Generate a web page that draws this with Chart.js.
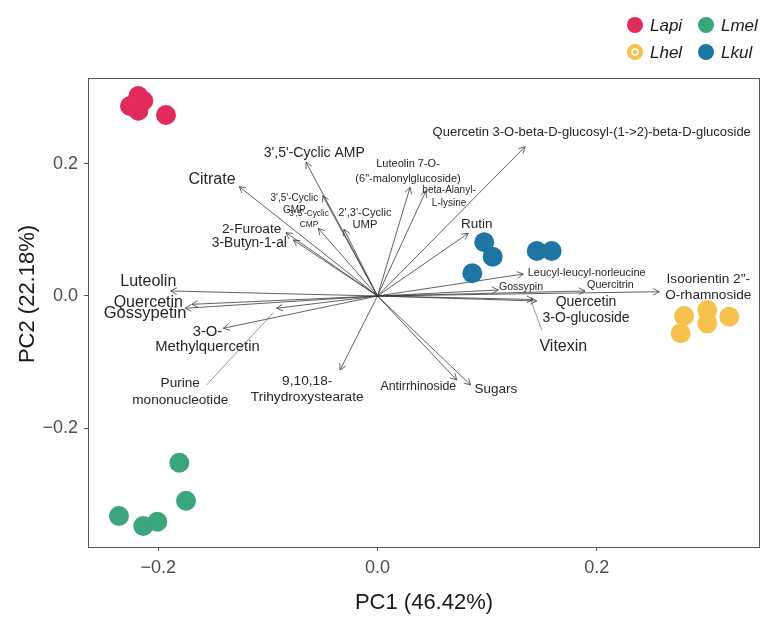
<!DOCTYPE html>
<html>
<head>
<meta charset="utf-8">
<script src="https://cdn.jsdelivr.net/npm/chart.js@4/dist/chart.umd.min.js"></script>
<style>
html,body{margin:0;padding:0;background:#fff;}
#c{display:block;}
</style>
</head>
<body>
<canvas id="c" width="774" height="626"></canvas>
<script>
// ---------- DATA ----------
const groups = ['Lapi', 'Lmel', 'Lhel', 'Lkul'];
const lapiPC1 = [-0.2182, -0.2258, -0.2182, -0.2137, -0.1930];
const lapiPC2 = [0.3030, 0.2879, 0.2808, 0.2959, 0.2742];
const lmelPC1 = [-0.1808, -0.1747, -0.2359, -0.2137, -0.2009];
const lmelPC2 = [-0.2526, -0.3102, -0.3333, -0.3485, -0.3420];
const lhelPC1 = [0.2797, 0.3009, 0.3210, 0.2766, 0.3009];
const lhelPC2 = [-0.0303, -0.0212, -0.0314, -0.0565, -0.0414];
const lkulPC1 = [0.0974, 0.1051, 0.0865, 0.1453, 0.1589];
const lkulPC2 = [0.0814, 0.0595, 0.0344, 0.0682, 0.0682];

const loadingNames = [
  "3',5'-Cyclic AMP", "Citrate", "3',5'-Cyclic\nGMP", "3',5'-Cyclic\nCMP", "2',3'-Cyclic\nUMP",
  "2-Furoate", "3-Butyn-1-al", "Luteolin 7-O-\n(6\"-malonylglucoside)", "beta-Alanyl-\nL-lysine",
  "Quercetin 3-O-beta-D-glucosyl-(1->2)-beta-D-glucoside", "Rutin", "Leucyl-leucyl-norleucine",
  "Gossypin", "Quercitrin", "Isoorientin 2\"-\nO-rhamnoside", "Quercetin\n3-O-glucoside", "Vitexin",
  "Luteolin", "Quercetin", "Gossypetin", "3-O-\nMethylquercetin", "Purine\nmononucleotide",
  "9,10,18-\nTrihydroxystearate", "Antirrhinoside", "Sugars"
];
const loadingPC1 = [
  -0.0652, -0.1261, -0.0500, -0.0540, -0.0306,
  -0.0835, -0.0768, 0.0297, 0.0443,
  0.1346, 0.0828, 0.1330,
  0.1102, 0.1893, 0.2571, 0.1453, 0.1419,
  -0.1887, -0.1695, -0.1756, -0.1407, -0.0920,
  -0.0342, 0.0723, 0.0850
];
const loadingPC2 = [
  0.2026, 0.1656, 0.1520, 0.1026, 0.1011,
  0.0959, 0.0848, 0.1647, 0.1595,
  0.2262, 0.0950, 0.0333,
  0.0091, 0.0076, 0.0065, -0.0076, -0.0053,
  0.0076, -0.0126, -0.0186, -0.0489, -0.0186,
  -0.1121, -0.1273, -0.1348
];
const xTicks = [-0.2, 0.0, 0.2];
const yTicks = [-0.2, 0.0, 0.2];
const xTitle = 'PC1 (46.42%)';
const yTitle = 'PC2 (22.18%)';

// ---------- STYLE / LAYOUT ----------
const groupColors = ['#E22A5B', '#3BA57B', '#F6C24D', '#1F76A3'];
// label placement (pixel offsets from arrow tip), font size, line height, optional leader line
const labelLayout = [
  {dx: 8.3, dy: -9, s: 14},
  {dx: -27.3, dy: -6.7, s: 16},
  {dx: -28.4, dy: 8.5, s: 10, lh: 11.7},
  {dx: -9.3, dy: -9.1, s: 8.3, lh: 10.3},
  {dx: 21, dy: -10.4, s: 11.2, lh: 12.3},
  {dx: -34.3, dy: -3.7, s: 13.7},
  {dx: -44, dy: 3.3, s: 13.8},
  {dx: -2, dy: -15.6, s: 11, lh: 15.3},
  {dx: 23, dy: 6.3, s: 10, lh: 12.6},
  {dx: 66.7, dy: -14, s: 13},
  {dx: 8.4, dy: -9, s: 13.5},
  {dx: 63.4, dy: -1.3, s: 11},
  {dx: 22.7, dy: -3.3, s: 10.6},
  {dx: 25.5, dy: -5.7, s: 10.8},
  {dx: 49, dy: -4.5, s: 13.6, lh: 15.7},
  {dx: 49.3, dy: 9, s: 14, lh: 16.6},
  {dx: 30.3, dy: 47.2, s: 16, leader: [-21.6, -16.7, -2.3, 0.5]},
  {dx: -22.4, dy: -9.3, s: 16},
  {dx: -43.4, dy: -2, s: 16},
  {dx: -40, dy: 5, s: 16.5},
  {dx: -15.8, dy: 10.9, s: 14.8, lh: 15},
  {dx: -96.4, dy: 83.4, s: 13.6, lh: 16.7, leader: [26.4, -6.7, -3.4, 4.4]},
  {dx: -32.8, dy: 19.3, s: 13.7, lh: 16.7},
  {dx: -38.4, dy: 6.7, s: 12.4},
  {dx: 25.3, dy: 4.3, s: 13.5}
];

const FONT = "'Liberation Sans', Arial, Helvetica, sans-serif";
Chart.defaults.font.family = FONT;

function pts(xs, ys) { return xs.map((v, i) => ({x: v, y: ys[i]})); }

const groupData = [pts(lapiPC1, lapiPC2), pts(lmelPC1, lmelPC2), pts(lhelPC1, lhelPC2), pts(lkulPC1, lkulPC2)];

const datasets = [];
loadingNames.forEach((n, i) => {
  datasets.push({
    label: n,
    data: [{x: 0, y: 0}, {x: loadingPC1[i], y: loadingPC2[i]}],
    showLine: true,
    borderColor: '#3a3a3a',
    borderWidth: 0.8,
    pointRadius: 0,
    pointHoverRadius: 0,
    order: 2
  });
});
groups.forEach((g, i) => {
  datasets.push({
    label: g,
    data: groupData[i],
    backgroundColor: groupColors[i],
    borderWidth: 0,
    pointRadius: 10,
    pointHoverRadius: 10,
    order: 1
  });
});

const fmt = v => {
  const a = Math.abs(v).toFixed(1);
  return v < -1e-9 ? '\u2212' + a : a;
};

const overlay = {
  id: 'overlay',
  afterDatasetsDraw(chart) {
    const ctx = chart.ctx;
    const xs = chart.scales.x, ys = chart.scales.y;
    const ox = xs.getPixelForValue(0), oy = ys.getPixelForValue(0);
    ctx.save();
    // arrowheads
    ctx.strokeStyle = '#3a3a3a';
    ctx.lineWidth = 0.8;
    loadingNames.forEach((n, i) => {
      const tx = xs.getPixelForValue(loadingPC1[i]);
      const ty = ys.getPixelForValue(loadingPC2[i]);
      const ang = Math.atan2(ty - oy, tx - ox);
      const L = 7, a = 0.5;
      ctx.beginPath();
      ctx.moveTo(tx - L * Math.cos(ang - a), ty - L * Math.sin(ang - a));
      ctx.lineTo(tx, ty);
      ctx.lineTo(tx - L * Math.cos(ang + a), ty - L * Math.sin(ang + a));
      ctx.stroke();
    });
    // labels
    ctx.fillStyle = '#262626';
    ctx.textAlign = 'center';
    ctx.textBaseline = 'middle';
    loadingNames.forEach((n, i) => {
      const lay = labelLayout[i];
      const tx = xs.getPixelForValue(loadingPC1[i]);
      const ty = ys.getPixelForValue(loadingPC2[i]);
      const cx = tx + lay.dx, cy = ty + lay.dy;
      if (lay.leader) {
        ctx.strokeStyle = '#555';
        ctx.lineWidth = 0.6;
        ctx.beginPath();
        ctx.moveTo(cx + lay.leader[0], cy + lay.leader[1]);
        ctx.lineTo(tx + lay.leader[2], ty + lay.leader[3]);
        ctx.stroke();
      }
      const lines = n.split('\n');
      const lh = lay.lh || lay.s * 1.15;
      ctx.font = lay.s + 'px ' + FONT;
      lines.forEach((t, k) => {
        ctx.fillText(t, cx, cy + (k - (lines.length - 1) / 2) * lh);
      });
    });
    ctx.restore();
  },
  afterDraw(chart) {
    const ctx = chart.ctx;
    const ca = chart.chartArea;
    ctx.save();
    // panel box
    ctx.strokeStyle = '#555';
    ctx.lineWidth = 1;
    ctx.strokeRect(ca.left + 0.5, ca.top + 0.5, ca.right - ca.left - 1, ca.bottom - ca.top);
    // axis titles
    ctx.fillStyle = '#1a1a1a';
    ctx.font = '22px ' + FONT;
    ctx.textAlign = 'center';
    ctx.textBaseline = 'middle';
    ctx.fillText(xTitle, (ca.left + ca.right) / 2, 603);
    ctx.save();
    ctx.translate(28, 294);
    ctx.rotate(-Math.PI / 2);
    ctx.fillText(yTitle, 0, 0);
    ctx.restore();
    // legend
    const items = [
      {i: 0, x: 635, y: 25}, {i: 1, x: 706, y: 25},
      {i: 2, x: 635, y: 52}, {i: 3, x: 706, y: 52}
    ];
    ctx.font = 'italic 17px ' + FONT;
    ctx.textAlign = 'left';
    items.forEach(it => {
      ctx.fillStyle = groupColors[it.i];
      ctx.beginPath();
      ctx.arc(it.x, it.y, 8, 0, Math.PI * 2);
      ctx.fill();
      if (it.i === 2) {
        ctx.strokeStyle = '#fff';
        ctx.lineWidth = 1.5;
        ctx.beginPath();
        ctx.arc(it.x, it.y, 3, 0, Math.PI * 2);
        ctx.stroke();
      }
      ctx.fillStyle = '#1a1a1a';
      ctx.fillText(groups[it.i], it.x + 15, it.y + 1);
    });
    ctx.restore();
  }
};

new Chart(document.getElementById('c'), {
  type: 'scatter',
  data: {datasets},
  options: {
    responsive: false,
    animation: false,
    devicePixelRatio: 1,
    layout: {padding: {top: 78, right: 14, left: 0, bottom: 0}},
    plugins: {legend: {display: false}, tooltip: {enabled: false}},
    scales: {
      x: {
        type: 'linear',
        min: -0.26414, max: 0.34900,
        afterBuildTicks: s => { s.ticks = xTicks.map(v => ({value: v})); },
        afterFit: s => { s.height = 79; },
        grid: {display: true, drawOnChartArea: false, drawTicks: true, tickLength: 4, color: '#555', lineWidth: 1},
        border: {display: false},
        ticks: {callback: v => fmt(v), color: '#4d4d4d', font: {size: 18}, padding: 6, maxRotation: 0}
      },
      y: {
        type: 'linear',
        min: -0.38030, max: 0.33030,
        afterBuildTicks: s => { s.ticks = yTicks.map(v => ({value: v})); },
        afterFit: s => { s.width = 88; },
        grid: {display: true, drawOnChartArea: false, drawTicks: true, tickLength: 4, color: '#555', lineWidth: 1},
        border: {display: false},
        ticks: {callback: v => fmt(v), color: '#4d4d4d', font: {size: 18}, padding: 6}
      }
    }
  },
  plugins: [overlay]
});
</script>
</body>
</html>
